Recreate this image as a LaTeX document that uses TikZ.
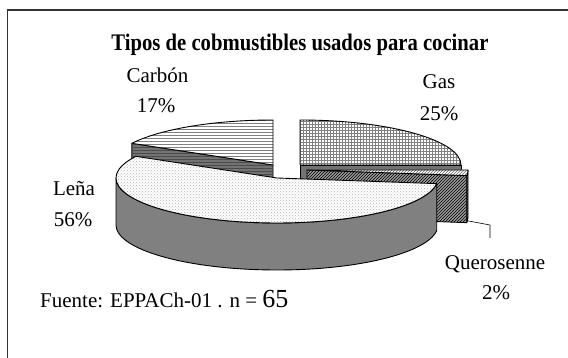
\documentclass[tikz,border=0pt]{standalone}
\usepackage{fontspec}
\setmainfont{Liberation Serif}
\usetikzlibrary{patterns}
\begin{document}
\begin{tikzpicture}[x=1pt,y=1pt,
  slice/.style={draw=black,line width=0.9pt,line join=round},
  face/.style={slice,fill=black!55},
  lbl/.style={font=\fontsize{21}{24}\selectfont,anchor=base,inner sep=0pt},
  ell/.style={x radius=161,y radius=45}]
\useasboundingbox (0,0) rectangle (568,358);

% frame
\draw[line width=1.6pt,black!80] (7.5,-5) -- (7.5,348) -- (580,348);

% Gas (25%)
\coordinate (G) at (300,193);
\path (G) ++(161,0) coordinate (Ge);
\path[face] (G) -- (Ge) -- ([yshift=-47pt]Ge) -- ([yshift=-47pt]G) -- cycle;
\path[slice,preaction={fill=white},pattern=grid,pattern color=black!50]
  (G) -- (Ge) arc[start angle=0,end angle=90,ell] -- cycle;

% Carbon (17%)
\coordinate (C) at (273,193);
\path (C) ++(151.2:161 and 45) coordinate (Cr);
\path (C) ++(0,45) coordinate (Ct);
\path[face,postaction={pattern=horizontal lines,pattern color=black!70}]
  (C) -- (Cr) -- ([yshift=-47pt]Cr) -- ([yshift=-47pt]C) -- cycle;
\path[slice,preaction={fill=white},pattern=horizontal lines,pattern color=black!50]
  (C) -- (Ct) arc[start angle=90,end angle=151.2,ell] -- cycle;

% Querosenne (2%)
\coordinate (Q) at (307,188);
\path (Q) ++(-7.2:161 and 45) coordinate (Qr);
\path (Q) ++(161,0) coordinate (Qe);
\path[slice,preaction={fill=black!40},pattern=north east lines,pattern color=black]
  (Q) -- (Qr) -- ([yshift=-47pt]Qr) -- ([yshift=-47pt]Q) -- cycle;
\path[slice,preaction={fill=black!40},pattern=north east lines,pattern color=black]
  (Qr) arc[start angle=-7.2,end angle=0,ell] -- ([yshift=-47pt]Qe)
  arc[start angle=0,end angle=-7.2,ell] -- cycle;
\path[slice,preaction={fill=white},pattern=north east lines,pattern color=black!60]
  (Q) -- (Qe) arc[start angle=0,end angle=-7.2,ell] -- cycle;

% Lena (56%)
\coordinate (L) at (277,180);
\path (L) ++(180:161 and 45) coordinate (La);
\path (L) ++(151.2:161 and 45) coordinate (Lc);
\path[slice,fill=black!50]
  (La) arc[start angle=180,end angle=352.8,ell] -- ++(0,-47)
  arc[start angle=352.8,end angle=180,ell] -- cycle;
\path[slice,preaction={fill=white},pattern=crosshatch dots,pattern color=black!30]
  (L) -- (Lc) arc[start angle=151.2,end angle=352.8,ell] -- cycle;

% leader for Querosenne
\coordinate (k1) at (490,133);
\coordinate (k2) at (490,120);
\draw[line width=0.6pt] ([yshift=-45pt]Qr) -- (k1) -- (k2);

% labels
\node[font=\bfseries\fontsize{22}{26}\selectfont,anchor=base,inner sep=0pt] (title) at (300,307)
  {\scalebox{0.94}[1.08]{Tipos de cobmustibles usados para cocinar}};
\node[lbl] (carb) at (157.5,275.3) {Carbón};
\node[lbl] (carbp) at (156,245.3) {17\%};
\node[lbl] (gas) at (439,269) {Gas};
\node[lbl] (gasp) at (439,237) {25\%};
\node[lbl] (lena) at (74,162) {Leña};
\node[lbl] (lenap) at (73,131) {56\%};
\node[lbl] (quer) at (495,88) {Querosenne};
\node[lbl] (querp) at (496,58) {2\%};
\node[lbl,anchor=base west] (src) at (40,50)
  {Fuente: EPPACh-01 . n = {\fontsize{26}{28}\selectfont 65}};
\end{tikzpicture}
\end{document}
